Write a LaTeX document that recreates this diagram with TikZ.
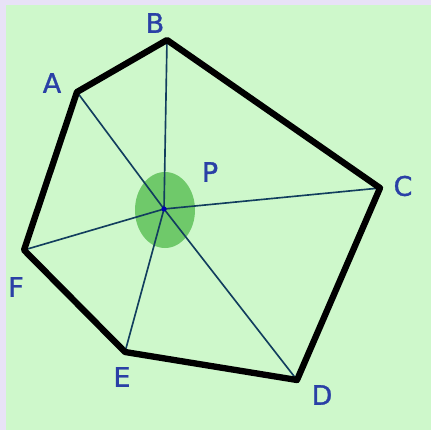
\documentclass[tikz,border=0pt]{standalone}
\usepackage{fontspec}
\newfontfamily\labelfont{DejaVu Sans}[FakeBold=1.2]
\definecolor{frame}{HTML}{E8E2F7}
\definecolor{paper}{HTML}{CEF8CB}
\definecolor{letter}{HTML}{2A40A6}
\definecolor{spot}{HTML}{6FC96A}
\definecolor{spoke}{HTML}{123E5E}
\begin{document}
\begin{tikzpicture}[x=0.03cm, y=-0.03cm,
  every node/.style={font=\labelfont\fontsize{23}{23}\selectfont, text=letter, inner sep=0pt},
  edge/.style={line width=5.4pt, black, line join=round},
  ray/.style={line width=1.4pt, spoke}]
  % background
  \fill[frame] (0,0) rectangle (431,430);
  \fill[paper] (6,5) rectangle (431,430);
  % vertices
  \coordinate (A) at (77,92);
  \coordinate (B) at (167,40);
  \coordinate (C) at (380,188);
  \coordinate (D) at (297,380);
  \coordinate (E) at (125,352);
  \coordinate (F) at (24,250);
  \coordinate (P) at (164,209);
  \fill[spot] (165,210) ellipse (30 and 38);
  \foreach \v in {A,B,C,D,E,F} {\draw[ray] (P) -- (\v);}
  \fill[blue!70!black] (P) circle (2.6);
  \draw[edge] (A) -- (B) -- (C) -- (D) -- (E) -- (F) -- cycle;
  % labels
  \node (lA) at (52,83) {A};
  \node (lB) at (155,23) {B};
  \node (lC) at (403,186) {C};
  \node (lD) at (322,395) {D};
  \node (lE) at (122,377) {E};
  \node (lF) at (16,287) {F};
  \node (lP) at (210,172) {P};
\end{tikzpicture}
\end{document}
